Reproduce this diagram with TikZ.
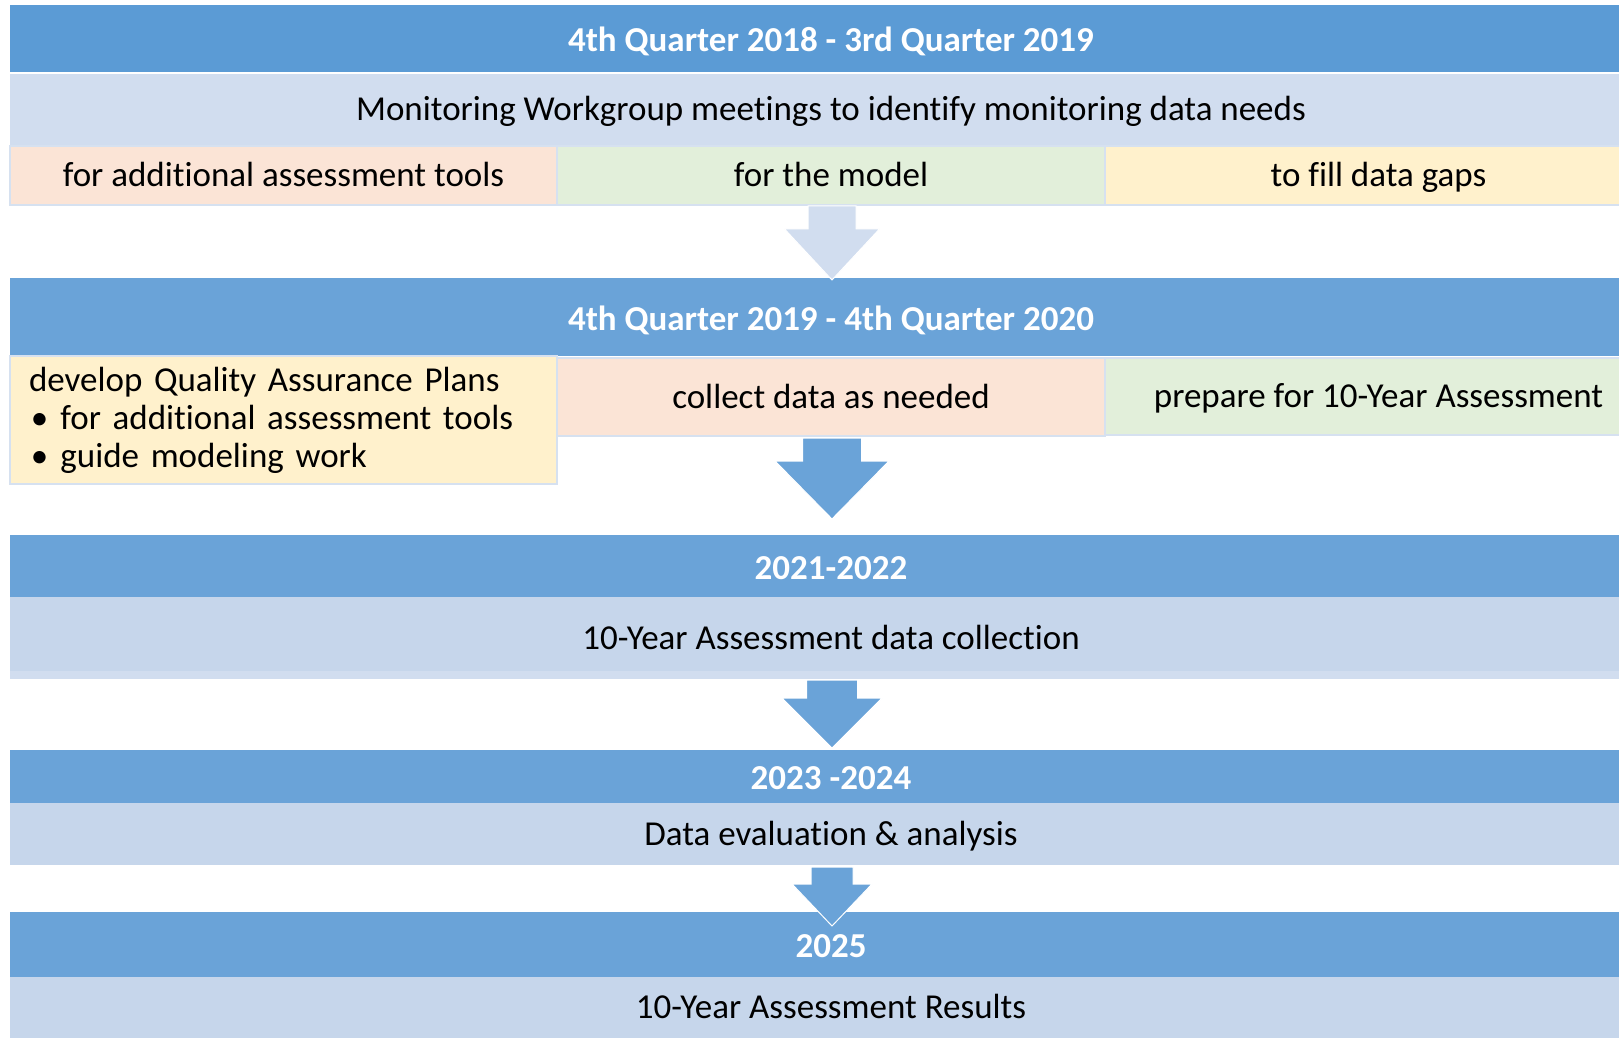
\documentclass[tikz,border=0pt]{standalone}
\usepackage{fontspec}
\setmainfont{Carlito}[Ligatures=NoCommon]

\definecolor{barA}{HTML}{5B9BD5}
\definecolor{barB}{HTML}{6AA3D8}
\definecolor{bandA}{HTML}{D1DDEF}
\definecolor{bandB}{HTML}{C6D6EB}
\definecolor{cellPeach}{HTML}{FBE4D6}
\definecolor{cellGreen}{HTML}{E2EFDA}
\definecolor{cellYellow}{HTML}{FFF1CC}
\definecolor{cellLine}{HTML}{D6E1F0}

\tikzset{
	blk/.style 2 args={anchor=north west,inner sep=0pt,outer sep=0pt,
		minimum width=#1*0.5pt,minimum height=#2*0.5pt},
	oneline/.style={text height=14pt,text depth=3pt},
	bar/.style={text height=15pt,text depth=2pt,fill=barB,text=white,font=\fontsize{17.5}{19}\selectfont\bfseries},
	band/.style={oneline,fill=bandB,font=\fontsize{17.5}{19}\selectfont},
	cell/.style={draw=cellLine,line width=0.75pt,font=\fontsize{17.5}{19}\selectfont},
	blockarrow/.style={fill=barB,draw=white,line width=0.5pt},
}

% block arrow pointing down: centre x, top, shoulder, tip, half shaft, half head
\newcommand{\downblock}[6]{(#1-#5,#2) -- (#1+#5,#2) -- (#1+#5,#3) -- (#1+#6,#3)
	-- (#1,#4) -- (#1-#6,#3) -- (#1-#5,#3) -- cycle}

\begin{document}
\begin{tikzpicture}[x=0.5pt,y=-0.5pt]
	\useasboundingbox (0,0) rectangle (1619,1038);
	\clip (0,0) rectangle (1619,1038);
	%
	\node[bar,fill=barA,blk={1642}{67}] (q1) at (10,5) {4th Quarter 2018 - 3rd Quarter 2019};
	\node[band,fill=bandA,blk={1642}{71}] (needs) at (10,74) {Monitoring Workgroup meetings to identify monitoring data needs};
	\node[cell,oneline,fill=cellPeach,blk={547}{59}] (tools) at (10,146) {for additional assessment tools};
	\node[cell,oneline,fill=cellGreen,blk={548}{59}] (model) at (557,146) {for the model};
	\node[cell,oneline,fill=cellYellow,blk={547}{59}] (gaps) at (1105,146) {to fill data gaps};
	%
	\node[bar,blk={1642}{78}] (q2) at (10,278) {4th Quarter 2019 - 4th Quarter 2020};
	\node[cell,fill=cellYellow,blk={547}{128},inner xsep=9.5pt,text width=254.5pt,align=left] (qap) at (10,356)
		{develop Quality Assurance Plans\\
		\hspace*{1pt}\textbullet\hspace{6pt}for additional assessment tools\\
		\hspace*{1pt}\textbullet\hspace{6pt}guide modeling work};
	\node[cell,oneline,fill=cellPeach,blk={548}{78}] (collect) at (557,358) {collect data as needed};
	\node[cell,oneline,fill=cellGreen,blk={547}{77}] (prep) at (1105,358) {prepare for 10-Year Assessment};
	%
	\node[bar,blk={1642}{62}] (q3) at (10,535) {2021-2022};
	\node[band,blk={1642}{82}] (coll) at (10,597) {10-Year Assessment data collection};
	\fill[bandA] (10,671) rectangle (1652,679);
	%
	\node[bar,blk={1642}{53}] (q4) at (10,750) {2023 -2024};
	\node[band,blk={1642}{62}] (eval) at (10,803) {Data evaluation \& analysis};
	%
	\node[bar,blk={1642}{65}] (q5) at (10,912) {2025};
	\node[band,blk={1642}{61}] (res) at (10,977) {10-Year Assessment Results};
	%
	\filldraw[blockarrow,fill=bandA] \downblock{832}{206}{229}{280}{24}{47.5};
	\filldraw[blockarrow] \downblock{832}{438}{461}{519}{29.5}{57};
	\filldraw[blockarrow] \downblock{832}{680}{698}{748}{25.5}{50};
	\filldraw[blockarrow] \downblock{832}{867}{884}{926}{21}{40};
\end{tikzpicture}
\end{document}
